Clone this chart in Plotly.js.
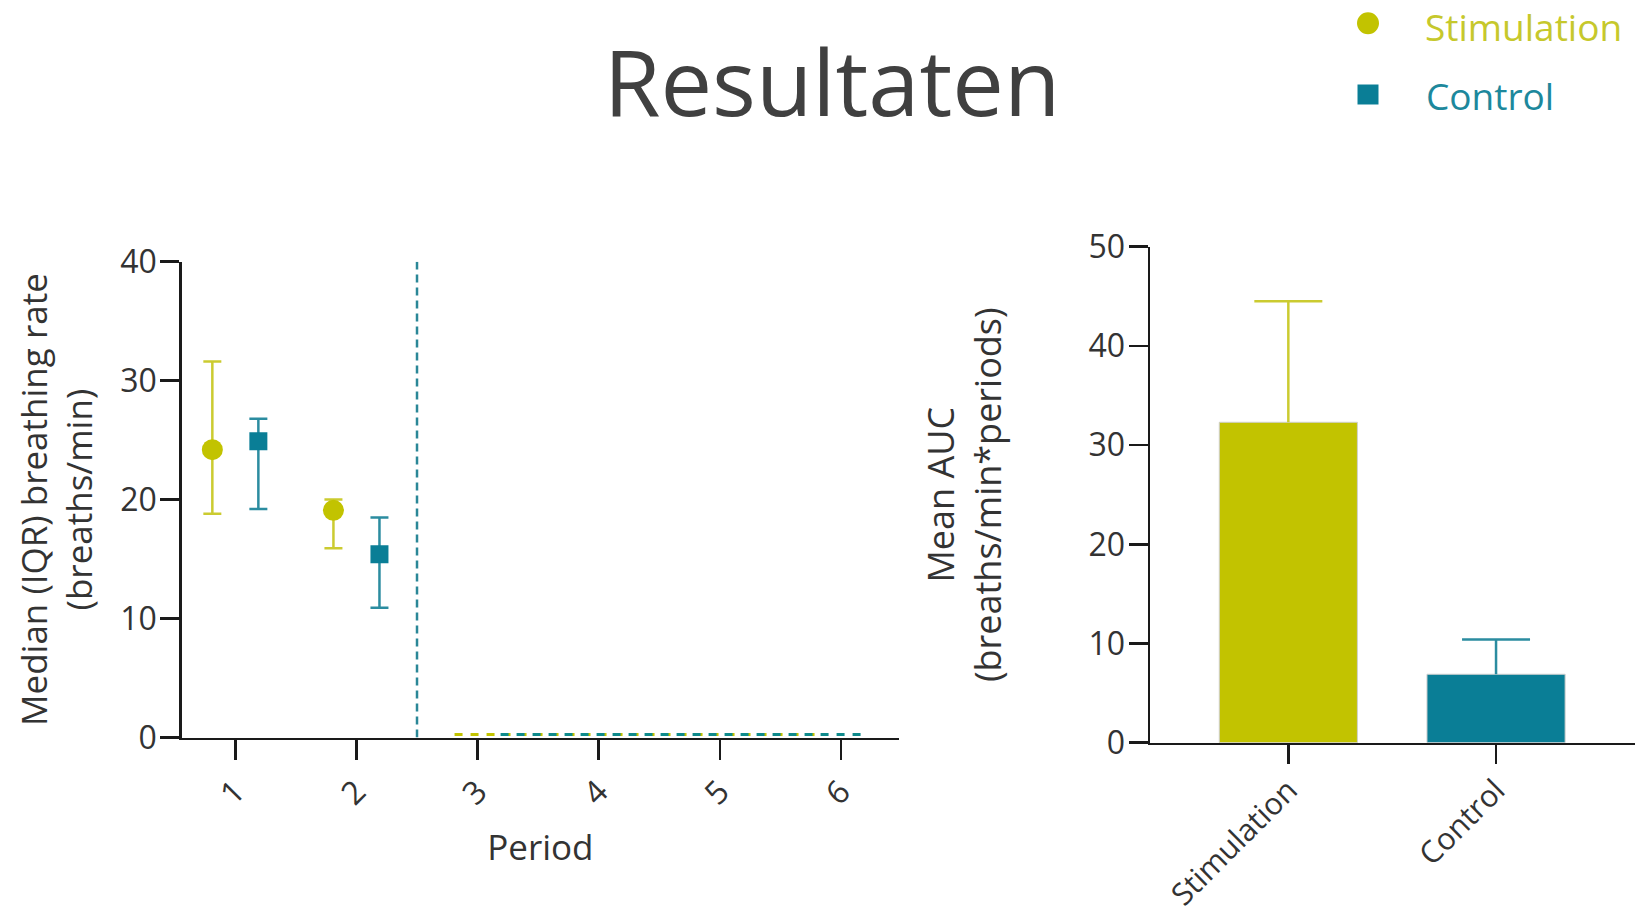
<!DOCTYPE html>
<html>
<head>
<meta charset="utf-8">
<script src="https://cdn.plot.ly/plotly-3.0.1.min.js"></script>
<style>
  html, body { margin: 0; padding: 0; background: #ffffff; }
  #chart { width: 1642px; height: 915px; }
</style>
</head>
<body>
<div id="chart"></div>
<script>
// ---------------- DATA ----------------
var chartTitle = 'Resultaten';
var seriesNames = ['Stimulation', 'Control'];

// Left panel: median (IQR) breathing rate per period
var periods = [1, 2];
var stimMedian = [24.2, 19.1];
var stimQ3 = [31.6, 20.0];
var stimQ1 = [18.8, 15.9];
var ctrlMedian = [24.9, 15.4];
var ctrlQ3 = [26.8, 18.5];
var ctrlQ1 = [19.2, 10.9];

var latePeriods = [3, 4, 5, 6];
var stimLate = [0.25, 0.25, 0.25, 0.25];
var ctrlLate = [0.25, 0.25, 0.25, 0.25];

var periodTicks = [1, 2, 3, 4, 5, 6];
var rateTicks = [0, 10, 20, 30, 40];
var cutoffPeriod = 2.5;

// Right panel: mean AUC (+ upper error)
var aucGroups = ['Stimulation', 'Control'];
var aucMean = [32.3, 6.9];
var aucErrUpper = [44.5, 10.4];
var aucTicks = [0, 10, 20, 30, 40, 50];

// ---------------- STYLE ----------------
var W = 1642, H = 915;
var FONT = 'Open Sans, Noto Sans, sans-serif';
var STIM = '#C2C300', STIM_ERR = '#CBCB30', STIM_TXT = '#C6C82C';
var CTRL = '#0A7E96', CTRL_ERR = '#2B8CA0', CTRL_TXT = '#1D889C';
var AXIS = '#1a1a1a', TXT = '#333333';
var OFF = 0.19;

function px2x(p) { return p / W; }
function px2y(p) { return 1 - p / H; }
function sub(a, b) { return a.map(function (v, i) { return v - b[i]; }); }
function shift(a, d) { return a.map(function (v) { return v + d; }); }
function zeros(a) { return a.map(function () { return 0; }); }

var traces = [
  {
    type: 'scatter', mode: 'lines', xaxis: 'x', yaxis: 'y',
    x: shift(latePeriods, -OFF), y: stimLate,
    line: { color: STIM, width: 3, dash: '8px,8px' },
    showlegend: false, hoverinfo: 'skip'
  },
  {
    type: 'scatter', mode: 'lines', xaxis: 'x', yaxis: 'y',
    x: shift(latePeriods, OFF), y: ctrlLate,
    line: { color: '#0E8A8C', width: 3, dash: '8px,8px' },
    showlegend: false, hoverinfo: 'skip'
  },
  {
    type: 'scatter', mode: 'markers', name: seriesNames[0], xaxis: 'x', yaxis: 'y',
    x: shift(periods, -OFF), y: stimMedian,
    marker: { symbol: 'circle', size: 21, color: STIM },
    error_y: { type: 'data', symmetric: false, array: sub(stimQ3, stimMedian),
               arrayminus: sub(stimMedian, stimQ1), color: STIM_ERR, thickness: 2.5, width: 9 },
    showlegend: false
  },
  {
    type: 'scatter', mode: 'markers', name: seriesNames[1], xaxis: 'x', yaxis: 'y',
    x: shift(periods, OFF), y: ctrlMedian,
    marker: { symbol: 'square', size: 18, color: CTRL },
    error_y: { type: 'data', symmetric: false, array: sub(ctrlQ3, ctrlMedian),
               arrayminus: sub(ctrlMedian, ctrlQ1), color: CTRL_ERR, thickness: 2.5, width: 9 },
    showlegend: false
  },
  {
    type: 'bar', xaxis: 'x2', yaxis: 'y2',
    x: aucGroups, y: aucMean, width: 0.665,
    marker: { color: [STIM, CTRL], line: { color: '#cfcfcf', width: 1 } },
    showlegend: false
  }
];

// upper-only error bars: a stem from the bar top to the upper value (no caps),
// plus a zero-length error bar at the upper value that draws the single cap
[STIM_ERR, CTRL_ERR].forEach(function (col, i) {
  traces.push({
    type: 'scatter', mode: 'markers', xaxis: 'x2', yaxis: 'y2',
    x: [aucGroups[i]], y: [aucErrUpper[i]], marker: { size: 1, opacity: 0 },
    error_y: { type: 'data', symmetric: false, array: [0],
               arrayminus: [aucErrUpper[i] - aucMean[i]], color: col, thickness: 2.5, width: 0 },
    showlegend: false, hoverinfo: 'skip'
  });
  traces.push({
    type: 'scatter', mode: 'markers', xaxis: 'x2', yaxis: 'y2',
    x: [aucGroups[i]], y: [aucErrUpper[i]], marker: { size: 1, opacity: 0 },
    error_y: { type: 'data', array: [0], color: col, thickness: 2.5, width: 34 },
    showlegend: false, hoverinfo: 'skip'
  });
});

var tickFont = { family: FONT, size: 32, color: TXT };
var titleFont = { family: FONT, size: 35, color: TXT };

var layout = {
  width: W, height: H, autosize: false,
  margin: { l: 0, r: 0, t: 0, b: 0 },
  paper_bgcolor: '#ffffff', plot_bgcolor: '#ffffff',
  showlegend: false,
  font: { family: FONT },
  title: {
    text: chartTitle, xref: 'container', yref: 'container',
    x: px2x(832), xanchor: 'center', y: px2y(84), yanchor: 'middle',
    font: { family: FONT, size: 92, color: '#404040' }
  },
  xaxis: {
    domain: [px2x(181.7), px2x(899)], range: [0.557, 6.48],
    tickvals: periodTicks, ticktext: periodTicks.map(String), tickangle: -45,
    ticks: 'outside', ticklen: 20, tickwidth: 2.5, tickcolor: AXIS,
    showline: true, linecolor: AXIS, linewidth: 2.5,
    showgrid: false, zeroline: false, tickfont: tickFont,
    title: { text: 'Period', font: titleFont, standoff: 24 },
    anchor: 'y', fixedrange: true
  },
  yaxis: {
    domain: [px2y(737.5), px2y(261.7)], range: [0, 40],
    tickvals: rateTicks, ticks: 'outside', ticklen: 19, tickwidth: 2.5, tickcolor: AXIS,
    showline: true, linecolor: AXIS, linewidth: 2.5, ticklabelstandoff: -3,
    showgrid: false, zeroline: false, tickfont: tickFont,
    title: { text: 'Median (IQR) breathing rate<br>(breaths/min)', font: titleFont, standoff: 17 },
    anchor: 'x', fixedrange: true
  },
  xaxis2: {
    domain: [px2x(1150), px2x(1635)], range: [-0.666, 1.669], type: 'category',
    tickangle: -45, ticks: 'outside', ticklen: 19, tickwidth: 2.5, tickcolor: AXIS,
    showline: true, linecolor: AXIS, linewidth: 2.5, ticklabelstandoff: -4,
    showgrid: false, zeroline: false, tickfont: { family: FONT, size: 30.5, color: TXT },
    anchor: 'y2', fixedrange: true
  },
  yaxis2: {
    domain: [px2y(742.7), px2y(246.7)], range: [0, 50],
    tickvals: aucTicks, ticks: 'outside', ticklen: 19, tickwidth: 2.5, tickcolor: AXIS,
    showline: true, linecolor: AXIS, linewidth: 2.5, ticklabelstandoff: -3,
    showgrid: false, zeroline: false, tickfont: tickFont,
    title: { text: 'Mean AUC<br>(breaths/min*periods)', font: { family: FONT, size: 36, color: TXT }, standoff: 76 },
    anchor: 'x2', fixedrange: true
  },
  shapes: [
    { type: 'line', xref: 'x', yref: 'y', x0: cutoffPeriod, x1: cutoffPeriod, y0: 0, y1: 40,
      line: { color: '#2A8797', width: 2.5, dash: '8px,5px' } },
    { type: 'circle', xref: 'paper', yref: 'paper',
      x0: px2x(1357), x1: px2x(1379), y0: px2y(34.3), y1: px2y(12.3),
      fillcolor: STIM, line: { width: 0 } },
    { type: 'rect', xref: 'paper', yref: 'paper',
      x0: px2x(1357.5), x1: px2x(1378.5), y0: px2y(104.5), y1: px2y(84.5),
      fillcolor: CTRL, line: { width: 0 } }
  ],
  annotations: [
    { text: seriesNames[0], xref: 'paper', yref: 'paper', x: px2x(1424), y: 1,
      xanchor: 'left', yanchor: 'top', showarrow: false, borderpad: 0,
      font: { family: FONT, size: 37, color: STIM_TXT } },
    { text: seriesNames[1], xref: 'paper', yref: 'paper', x: px2x(1424), y: px2y(95),
      xanchor: 'left', yanchor: 'middle', showarrow: false,
      font: { family: FONT, size: 37, color: CTRL_TXT } }
  ]
};

Plotly.newPlot('chart', traces, layout, { displayModeBar: false, staticPlot: true });
</script>
</body>
</html>
